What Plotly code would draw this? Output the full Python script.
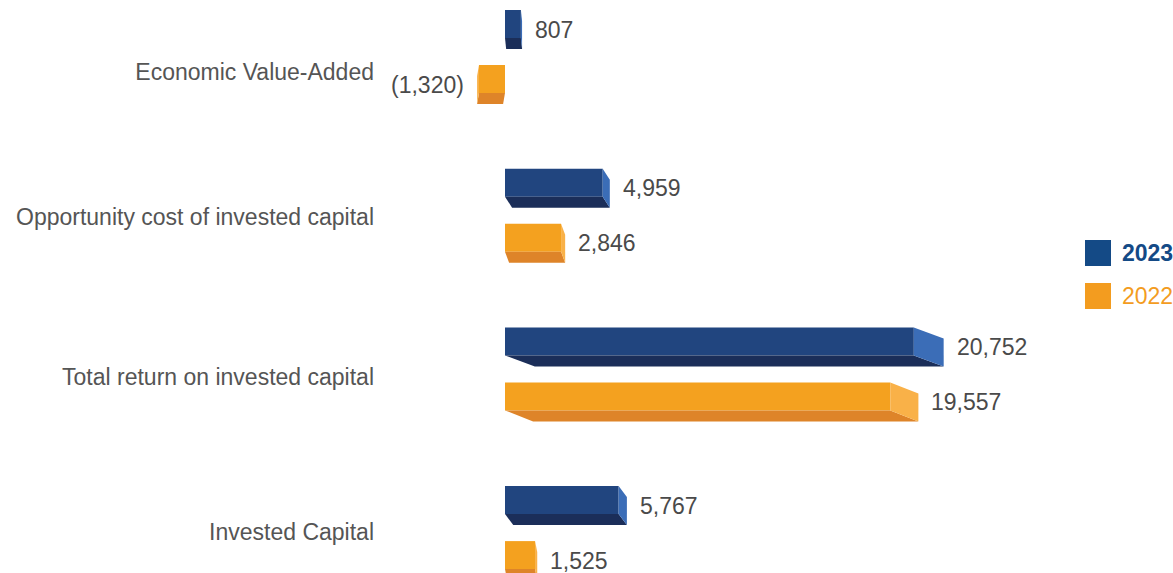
import plotly.graph_objects as go

categories = ["Economic Value-Added", "Opportunity cost of invested capital",
              "Total return on invested capital", "Invested Capital"]
values_2023 = [807, 4959, 20752, 5767]
values_2022 = [-1320, 2846, 19557, 1525]
series_names = ["2023", "2022"]

# styling
FRONT = {"2023": "#21457F", "2022": "#F4A11F"}
BOTTOM = {"2023": "#1B2E59", "2022": "#DE8429"}
SIDE = {"2023": "#3B6DB7", "2022": "#F9B148"}
LEGEND_COL = {"2023": "#144A86", "2022": "#F39C1F"}
FONT = "Liberation Sans, Arial, sans-serif"
FS = 23

W, H = 1173, 573
ML = 380
K = 0.01970                      # px per unit
ZERO_PX = 505
XMIN = -(ZERO_PX - ML) / K
XMAX = (W - ZERO_PX) / K
SP = 158.7                       # px per category
Y0 = 51.5
YMIN = -Y0 / SP
YMAX = (H - Y0) / SP
OFF = 27.5 / SP                  # series offset
BW = 28 / SP                     # front face height
DH = 11 / SP                     # depth (vertical)
DX = 0.073                       # depth (horizontal), fraction of value
label_offsets = [0.13, 0.04, 0.05, 0.03]

fig = go.Figure()
annotations = []

def fmt(v):
    s = f"{abs(v):,}"
    return f"({s})" if v < 0 else s

for name, vals, sgn in [("2023", values_2023, -1), ("2022", values_2022, 1)]:
    ys = [i + sgn * OFF for i in range(len(categories))]
    for v, yc in zip(vals, ys):
        top = yc - BW / 2
        fb = yc + BW / 2
        d = DX * v
        bx = [0, v, v + d, d, 0]
        by = [fb, fb, fb + DH, fb + DH, fb]
        fig.add_trace(go.Scatter(x=bx, y=by, fill="toself", mode="lines",
                                 fillcolor=BOTTOM[name], line=dict(width=0),
                                 hoverinfo="skip", showlegend=False))
        sx = [v, v + d, v + d, v, v]
        sy = [top, top + DH, fb + DH, fb, top]
        fig.add_trace(go.Scatter(x=sx, y=sy, fill="toself", mode="lines",
                                 fillcolor=SIDE[name], line=dict(width=0),
                                 hoverinfo="skip", showlegend=False))
        annotations.append(dict(
            x=v + d, y=yc + DH / 2, xref="x", yref="y", text=fmt(v),
            showarrow=False, xanchor="left" if v >= 0 else "right",
            xshift=11 if v >= 0 else -11,
            font=dict(family=FONT, size=FS, color="#4a4a4a")))
    fig.add_trace(go.Bar(x=vals, y=ys, orientation="h", base=0, width=BW,
                         marker=dict(color=FRONT[name], line=dict(width=0)),
                         name=name, showlegend=False, hoverinfo="skip"))

# legend
def px2paper_x(px):
    return (px - ML) / (W - ML)

def px2paper_y(py):
    return 1 - py / H

shapes = []
for name, top in [("2023", 240), ("2022", 283)]:
    shapes.append(dict(type="rect", xref="paper", yref="paper",
                       x0=px2paper_x(1085), x1=px2paper_x(1111),
                       y0=px2paper_y(top + 26), y1=px2paper_y(top),
                       fillcolor=LEGEND_COL[name], line=dict(width=0)))
    annotations.append(dict(
        x=px2paper_x(1120), y=px2paper_y(top + 13), xref="paper", yref="paper",
        text=f"<b>{name}</b>" if name == "2023" else name, showarrow=False,
        xanchor="left", yanchor="middle",
        font=dict(family=FONT, size=FS, color=LEGEND_COL[name])))

fig.update_layout(
    width=W, height=H,
    margin=dict(l=ML, r=0, t=0, b=0),
    paper_bgcolor="white", plot_bgcolor="white",
    barmode="overlay",
    xaxis=dict(range=[XMIN, XMAX], visible=False, fixedrange=True),
    yaxis=dict(range=[YMAX, YMIN], tickvals=[i + o for i, o in enumerate(label_offsets)],
               ticktext=categories, showgrid=False, zeroline=False, showline=False,
               ticks="", tickfont=dict(family=FONT, size=FS, color="#555555"),
               ticklabelstandoff=5, automargin=False, fixedrange=True),
    shapes=shapes,
    annotations=annotations,
    showlegend=False,
)

fig.write_html("out.html", config={"displayModeBar": False},
               post_script="document.body.style.margin='0';document.body.style.overflow='hidden';")
